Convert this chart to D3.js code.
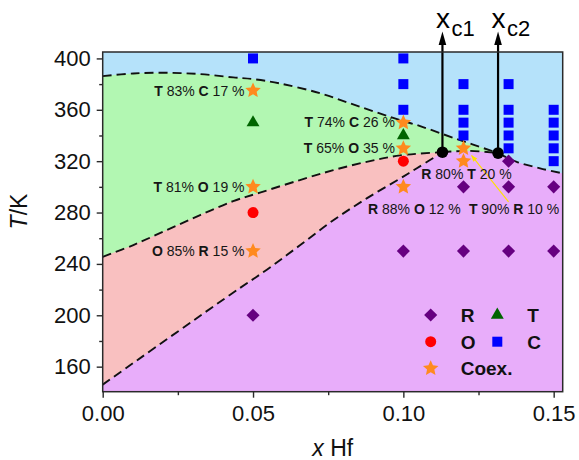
<!DOCTYPE html>
<html>
<head>
<meta charset="utf-8">
<script src="https://cdn.jsdelivr.net/npm/d3@7"></script>
<style>
  body { margin: 0; background: #fff; }
  svg { display: block; }
  text { font-family: "Liberation Sans", Arial, Helvetica, sans-serif; }
</style>
</head>
<body>
<svg id="chart" width="579" height="460"></svg>
<script>
// ---- measured phases: [x Hf, T (K)] ----
const rhombohedral = [[0.05,200],[0.10,250],[0.12,250],[0.135,250],[0.15,250],
                      [0.12,300],[0.135,300],[0.15,300],[0.135,320]];
const orthorhombic = [[0.05,280],[0.10,320]];
const tetragonal   = [[0.05,350],[0.10,340]];
const cubic        = [[0.05,400],[0.10,400],[0.10,380],[0.10,360],
                      [0.12,380],[0.12,360],[0.12,350],[0.12,340],
                      [0.135,380],[0.135,360],[0.135,350],[0.135,340],[0.135,330],
                      [0.15,360],[0.15,350],[0.15,340],[0.15,330],[0.15,320]];
// two-phase coexistence points with phase fractions (%)
const coexistence = [
  {x:0.05, T:375, major:"T", pMajor:83, minor:"C", pMinor:17},
  {x:0.05, T:300, major:"T", pMajor:81, minor:"O", pMinor:19},
  {x:0.05, T:250, major:"O", pMajor:85, minor:"R", pMinor:15},
  {x:0.10, T:350, major:"T", pMajor:74, minor:"C", pMinor:26},
  {x:0.10, T:330, major:"T", pMajor:65, minor:"O", pMinor:35},
  {x:0.10, T:300, major:"R", pMajor:88, minor:"O", pMinor:12},
  {x:0.12, T:330, major:"T", pMajor:90, minor:"R", pMinor:10},
  {x:0.12, T:320, major:"R", pMajor:80, minor:"T", pMinor:20}
];
// critical compositions
const criticalPoints = [{sub:"c1", x:0.113, T:327}, {sub:"c2", x:0.1315, T:326.3}];

// ---- phase boundaries: [x Hf, T (K)] ----
const boundaryCT = [[0,386.2],[0.0102,388.3],[0.0213,388.8],[0.0324,387.8],[0.0434,385.2],
                    [0.05,383.9],[0.059,380.5],[0.0724,372.8],[0.0856,362.3],[0.0989,352],
                    [0.1056,347.3],[0.1166,338.2],[0.1315,326.3]];
const boundaryTO = [[0,245.5],[0.0102,254.7],[0.0213,266.4],[0.0324,278],[0.0434,288.9],
                    [0.0523,295.5],[0.0656,305.3],[0.0767,313],[0.0878,319.5],[0.0989,324.5],
                    [0.113,327]];
const boundaryOR = [[0,146],[0.0424,216],[0.0546,235.5],[0.0656,254.5],[0.0767,274],
                    [0.0878,291],[0.0989,306.5],[0.1045,314.5],[0.113,327]];
const boundaryTR = [[0.113,327],[0.122,328],[0.1315,326.3]];
const boundaryCR = [[0.1315,326.3],[0.1377,319.5],[0.1455,314.4],[0.153,310.5]];

const xTicks = [0, 0.05, 0.10, 0.15];
const xMinorTicks = [0.025, 0.075, 0.125];
const yTicks = [160, 200, 240, 280, 320, 360, 400];
const yMinorTicks = [180, 220, 260, 300, 340, 380];

const legendItems = [
  {label:"R", shape:"diamond"}, {label:"T", shape:"triangle"},
  {label:"O", shape:"circle"},  {label:"C", shape:"square"},
  {label:"Coex.", shape:"star"}
];

// ---- styling ----
const regionColor = {C:"#b5e2fa", T:"#b2f7b2", O:"#f9c0c0", R:"#e8adfa"};
const markerColor = {diamond:"#660080", triangle:"#006400", circle:"#ff0000", square:"#0000ff", star:"#ff8a1e"};
// plump five-pointed star: size is the squared outer radius
const symbolFatStar = {
  draw(ctx, size) {
    const R = Math.sqrt(size), r = R * 0.47;
    for (let k = 0; k < 10; k++) {
      const rad = k % 2 ? r : R, a = -Math.PI / 2 + k * Math.PI / 5;
      const px = rad * Math.cos(a), py = rad * Math.sin(a);
      k ? ctx.lineTo(px, py) : ctx.moveTo(px, py);
    }
    ctx.closePath();
  }
};
const symbolGen = {
  diamond:  d3.symbol(d3.symbolSquare, 86),
  triangle: d3.symbol(d3.symbolTriangle, 72),
  circle:   d3.symbol(d3.symbolCircle, 95),
  square:   d3.symbol(d3.symbolSquare, 100),
  star:     d3.symbol(symbolFatStar, 66)
};
const shapeRotate = {diamond:45};

const W = 579, H = 460;
const m = {left:102.7, right:16.3, top:52, bottom:68.3};
const svg = d3.select("#chart");
svg.append("rect").attr("width", W).attr("height", H).attr("fill", "#fff");

const x = d3.scaleLinear().domain([0, 0.153]).range([m.left, W - m.right]);
const y = d3.scaleLinear().domain([140.5, 405]).range([H - m.bottom, m.top]);
const x0 = x.range()[0], x1 = x.range()[1], yb = y.range()[0], yt = y.range()[1];

// ---- phase regions ----
const curve = d3.curveCatmullRom.alpha(0.5);
const line = d3.line().x(d => x(d[0])).y(d => y(d[1])).curve(curve);
const areaBelow = d3.area().x(d => x(d[0])).y0(yb).y1(d => y(d[1])).curve(curve);
const joined = segs => segs.map((s, i) => i ? line(s).replace(/^M/, "L") : line(s)).join("");

const regions = svg.append("g");
regions.append("rect").attr("x", x0).attr("y", yt).attr("width", x1 - x0).attr("height", yb - yt)
  .attr("fill", regionColor.C);
regions.append("path").attr("d", areaBelow(boundaryCT)).attr("fill", regionColor.T);
regions.append("path").attr("d", areaBelow(boundaryTO)).attr("fill", regionColor.O);
regions.append("path")
  .attr("d", joined([boundaryOR, boundaryTR, boundaryCR]) + `L${x1},${yb}L${x0},${yb}Z`)
  .attr("fill", regionColor.R);

// dashed boundaries
svg.append("g").selectAll("path")
  .data([boundaryCT, boundaryTO, boundaryOR, boundaryTR, boundaryCR])
  .join("path")
  .attr("d", line).attr("fill", "none").attr("stroke", "#111")
  .attr("stroke-width", 1.9).attr("stroke-dasharray", "9,5");

// ---- critical points with arrows ----
const crit = svg.append("g");
criticalPoints.forEach(p => {
  const cx = x(p.x), cy = y(p.T);
  crit.append("line").attr("x1", cx).attr("x2", cx).attr("y1", cy).attr("y2", yt - 9)
    .attr("stroke", "#000").attr("stroke-width", 2.2);
  crit.append("path").attr("d", `M${cx - 3.8},${yt - 7}L${cx},${yt - 20.5}L${cx + 3.8},${yt - 7}Z`)
    .attr("fill", "#000");
  crit.append("circle").attr("cx", cx).attr("cy", cy).attr("r", 5.8).attr("fill", "#000");
  const t = crit.append("text").attr("x", cx - 6.5).attr("y", 28.3).attr("fill", "#000")
    .style("font-family", '"Liberation Sans Narrow", "Arial Narrow", "Liberation Sans", sans-serif');
  t.append("tspan").attr("font-size", 28).text("x");
  t.append("tspan").attr("font-size", 22).attr("dx", 1.5).attr("dy", 7.4).text(p.sub);
});

// ---- markers ----
const drawMarkers = (pts, shape) => svg.append("g").selectAll("path")
  .data(pts).join("path")
  .attr("d", symbolGen[shape])
  .attr("transform", d => `translate(${x(d[0])},${y(d[1])}) rotate(${shapeRotate[shape] || 0})`)
  .attr("fill", markerColor[shape]);
drawMarkers(rhombohedral, "diamond");
drawMarkers(orthorhombic, "circle");
drawMarkers(tetragonal, "triangle");
drawMarkers(cubic, "square");

// pointer from the T 90 % / R 10 % label to its point
const yel = coexistence[6];
const tip = [x(yel.x) + 8, y(yel.T) + 7], tail = [x(0.135), y(300) + 15];
const ang = Math.atan2(tip[1] - tail[1], tip[0] - tail[0]);
svg.append("line").attr("x1", tail[0]).attr("y1", tail[1]).attr("x2", tip[0]).attr("y2", tip[1])
  .attr("stroke", "#ffe100").attr("stroke-width", 1.1);
svg.append("path")
  .attr("d", d3.line()([[0,0],[-6,-2.6],[-6,2.6]]) + "Z")
  .attr("transform", `translate(${tip[0]},${tip[1]}) rotate(${ang * 180 / Math.PI})`)
  .attr("fill", "#ffe100");

drawMarkers(coexistence.map(d => [d.x, d.T]), "star");

// ---- phase-fraction labels ----
const labelPlacement = [
  {dx:-8.5, dy:5, anchor:"end"}, {dx:-8.5, dy:5.5, anchor:"end"}, {dx:-8.5, dy:4.5, anchor:"end"},
  {dx:-8.5, dy:4, anchor:"end"}, {dx:-8.5, dy:5, anchor:"end"},
  {dx:11, dy:27, anchor:"middle"}, {dx:50.6, dy:65.7, anchor:"middle"}, {dx:3, dy:17.5, anchor:"middle"}
];
const labels = svg.append("g").attr("font-size", 14).attr("fill", "#161616").style("white-space", "pre");
coexistence.forEach((d, i) => {
  const pl = labelPlacement[i];
  const t = labels.append("text").attr("x", x(d.x) + pl.dx).attr("y", y(d.T) + pl.dy)
    .attr("text-anchor", pl.anchor);
  t.append("tspan").attr("font-weight", "bold").text(d.major);
  t.append("tspan").text(` ${d.pMajor}% `);
  t.append("tspan").attr("font-weight", "bold").text(d.minor);
  t.append("tspan").text(` ${d.pMinor} %`);
});

// ---- frame and axes ----
svg.append("rect").attr("x", x0).attr("y", yt).attr("width", x1 - x0).attr("height", yb - yt)
  .attr("fill", "none").attr("stroke", "#2a2a2a").attr("stroke-width", 1.5);

const styleAxis = g => {
  g.select(".domain").remove();
  g.selectAll("line").attr("stroke", "#2a2a2a").attr("stroke-width", 1.4);
  g.selectAll("text").attr("font-size", 22).attr("fill", "#111")
    .style("font-family", '"Liberation Sans", Arial, sans-serif');
};
svg.append("g").attr("transform", `translate(0,${yb})`)
  .call(d3.axisBottom(x).tickValues(xTicks).tickFormat(d3.format(".2f")).tickSize(6).tickPadding(8))
  .call(styleAxis);
svg.append("g").attr("transform", `translate(0,${yb})`)
  .call(d3.axisBottom(x).tickValues(xMinorTicks).tickFormat("").tickSize(3.5))
  .call(styleAxis);
svg.append("g").attr("transform", `translate(${x0},0)`)
  .call(d3.axisLeft(y).tickValues(yTicks).tickSize(6).tickPadding(6))
  .call(styleAxis);
svg.append("g").attr("transform", `translate(${x0},0)`)
  .call(d3.axisLeft(y).tickValues(yMinorTicks).tickFormat("").tickSize(3.5))
  .call(styleAxis);

// axis titles
const xt = svg.append("text").attr("x", (x0 + x1) / 2).attr("y", 456).attr("text-anchor", "middle")
  .attr("font-size", 23).attr("fill", "#111").style("white-space", "pre");
xt.append("tspan").attr("font-style", "italic").text("x");
xt.append("tspan").text(" Hf");
const yt2 = svg.append("text").attr("transform", "translate(27,211.5) rotate(-90)")
  .attr("text-anchor", "middle").attr("font-size", 23).attr("fill", "#111");
yt2.append("tspan").attr("font-style", "italic").text("T");
yt2.append("tspan").text("/K");

// ---- legend ----
const legend = svg.append("g").attr("font-size", 19).attr("font-weight", "bold").attr("fill", "#111");
legendItems.forEach((d, i) => {
  const col = i % 2, row = Math.floor(i / 2);
  const mx = 430.7 + col * 66.6, my = 315 + row * 26.7;
  legend.append("path").attr("d", symbolGen[d.shape])
    .attr("transform", `translate(${mx},${my}) rotate(${shapeRotate[d.shape] || 0})`)
    .attr("fill", markerColor[d.shape]);
  legend.append("text").attr("x", mx + 30).attr("y", my + 7).text(d.label);
});
</script>
</body>
</html>
